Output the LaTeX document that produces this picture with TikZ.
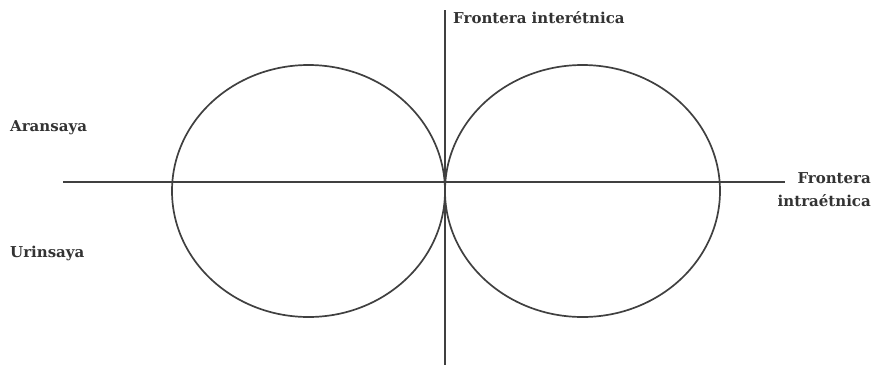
\documentclass[tikz,border=0pt]{standalone}
\usepackage{fontspec}
\setmainfont{DejaVu Serif}
\begin{document}
\begin{tikzpicture}[x=1pt,y=-1pt,
  axis/.style={draw=black!75,line width=1.7pt},
  loop/.style={draw=black!75,line width=1.7pt},
  lbl/.style={text=black!80,font=\bfseries\fontsize{15}{17}\selectfont,inner sep=0pt}]
\useasboundingbox (0,0) rectangle (875,365);
\coordinate (vt) at (445,10);
\coordinate (vb) at (445,365);
\coordinate (hl) at (63,182);
\coordinate (hr) at (785,182);
\draw[axis] (vt) -- (vb);
\draw[axis] (hl) -- (hr);
\draw[loop] (308.5,191) ellipse [x radius=136.5, y radius=126];
\draw[loop] (582.5,191) ellipse [x radius=137.5, y radius=126];
\node[lbl,anchor=west] (inter) at (453,18) {Frontera interétnica};
\node[lbl,anchor=west] (aran) at (10,128) {Aransaya};
\node[lbl,anchor=west] (urin) at (10,253) {Urinsaya};
\node[lbl,anchor=east,align=right] (intra) at (871,190) {Frontera\\[6pt]intraétnica};
\end{tikzpicture}
\end{document}
